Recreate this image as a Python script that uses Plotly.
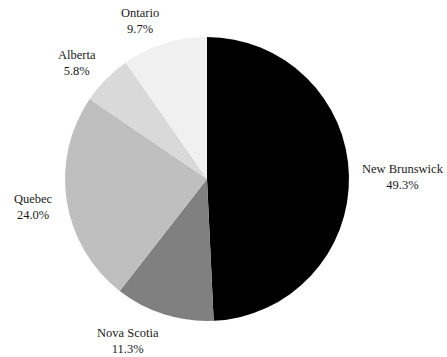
import math
import plotly.graph_objects as go

provinces = ["New Brunswick", "Nova Scotia", "Quebec", "Alberta", "Ontario"]
shares = [49.3, 11.3, 24.0, 5.8, 9.7]
colors = ["#000000", "#808080", "#bfbfbf", "#d9d9d9", "#f0f0f0"]

W, H = 447, 357
CX, CY, R = 207, 179, 142  # pie centre / radius in pixels (layout)
FONT = dict(family="Liberation Serif", size=12.5, color="#1a1a1a")

fig = go.Figure(go.Pie(
    labels=provinces,
    values=shares,
    sort=False,
    direction="clockwise",
    rotation=0,
    marker=dict(colors=colors, line=dict(width=0)),
    textinfo="none",
    hoverinfo="label+percent",
    showlegend=False,
    domain=dict(x=[(CX - R) / W, (CX + R) / W], y=[1 - (CY + R) / H, 1 - (CY - R) / H]),
))

# labels outside each slice, placed along the slice's mid-angle
total = sum(shares)
cum = 0.0
annotations = []
for name, v in zip(provinces, shares):
    mid = (cum + v / 2) / total * 2 * math.pi
    cum += v
    dx, dy = math.sin(mid), -math.cos(mid)  # dy positive downward
    px = CX + 1.08 * R * dx
    py = CY + 1.1 * R * dy + 2
    annotations.append(dict(
        x=px / W, y=1 - py / H, xref="paper", yref="paper",
        text=f"{name}<br>{v:.1f}%", showarrow=False, align="center",
        xanchor="left" if dx > 0 else "right", yanchor="middle",
        yshift=-dy * 12, font=FONT,
    ))

fig.update_layout(
    width=W, height=H,
    margin=dict(l=0, r=0, t=0, b=0),
    paper_bgcolor="white",
    plot_bgcolor="white",
    annotations=annotations,
)
fig.write_html("out.html")
